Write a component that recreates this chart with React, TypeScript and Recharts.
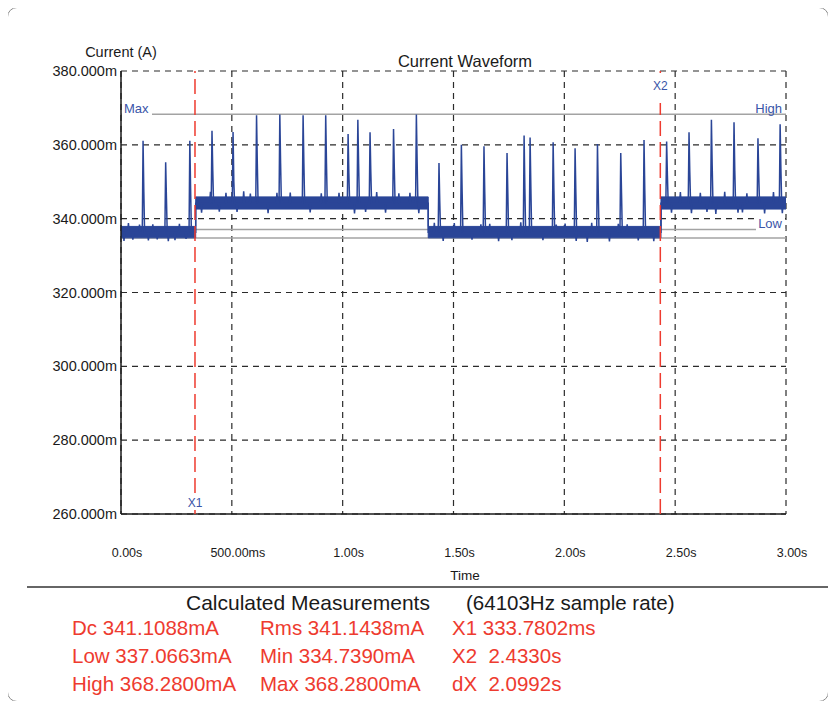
import React from "react";
import { ComposedChart, Line, Area, XAxis, YAxis, CartesianGrid, ReferenceLine } from "recharts";

// trace segments (s) and their noise band (mA)
const segStart = [0, 0.337, 1.386, 2.436];
const segEnd = [0.337, 1.386, 2.436, 3.0];
const segBase = [336.3, 344.2, 336.3, 344.2];
const bandLow = [334.8, 342.6, 334.8, 342.6];
const bandHigh = [337.9, 345.9, 337.9, 345.9];

// current spikes: time (s), peak and shoulder (mA)
const spikeTimes = [
  0.096, 0.198, 0.307, 0.407, 0.502, 0.608, 0.713, 0.818, 0.92, 1.021, 1.065, 1.12, 1.226, 1.329, 1.431, 1.532,
  1.634, 1.738, 1.815, 1.842, 1.946, 2.045, 2.146, 2.251, 2.356, 2.458, 2.559, 2.66, 2.762, 2.87, 2.97,
];
const spikePeaks = [
  361.1, 355.3, 361.1, 363.8, 363.5, 368.0, 368.2, 368.0, 368.0, 362.9, 366.8, 363.4, 364.3, 368.2, 355.1, 360.0,
  359.6, 357.8, 362.5, 362.0, 360.7, 359.1, 360.2, 357.8, 361.3, 360.9, 363.4, 366.8, 366.1, 361.8, 365.6,
];
const spikeShoulders = [
  347.2, 345.5, 348.2, 353.0, 350.0, 354.8, 355.0, 355.0, 355.0, 352.1, 354.8, 352.6, 353.5, 355.3, 344.7, 347.2,
  347.2, 347.2, 348.1, 348.5, 347.6, 347.0, 347.4, 347.0, 347.6, 351.7, 352.6, 354.4, 353.0, 352.1, 353.5,
];

// small noise outliers on the band edges
const noiseTimes = [
  0.01, 0.03, 0.05, 0.08, 0.12, 0.14, 0.16, 0.21, 0.24, 0.26, 0.29,
  0.36, 0.4, 0.44, 0.47, 0.52, 0.55, 0.58, 0.66, 0.7, 0.76, 0.85, 0.9, 0.98, 1.05, 1.1, 1.15, 1.19, 1.25, 1.3, 1.34,
  1.41, 1.45, 1.5, 1.58, 1.62, 1.66, 1.7, 1.76, 1.8, 1.9, 1.96, 2.0, 2.05, 2.1, 2.12, 2.2, 2.24, 2.28, 2.33, 2.4,
  2.48, 2.52, 2.57, 2.61, 2.64, 2.68, 2.72, 2.78, 2.8, 2.82, 2.9, 2.94, 2.98,
];
const noiseValues = [
  334.0, 338.8, 334.3, 338.4, 334.1, 338.5, 334.4, 333.9, 334.2, 338.6, 334.5,
  341.6, 347.3, 341.9, 347.0, 341.8, 347.4, 346.8, 341.5, 347.0, 347.1, 341.7, 346.9, 347.0, 341.4, 341.8, 347.2, 341.6, 346.9, 347.0, 341.5,
  338.9, 334.0, 338.8, 334.3, 338.5, 338.6, 333.9, 334.2, 339.0, 334.2, 338.4, 338.7, 334.0, 333.7, 338.9, 333.8, 338.6, 338.5, 334.1, 333.9,
  341.6, 347.2, 341.5, 347.0, 341.8, 341.3, 347.3, 341.6, 341.7, 346.9, 341.4, 347.2, 341.5,
];

const xTicks = [0, 0.5, 1, 1.5, 2, 2.5, 3];
const xTickLabels = ["0.00s", "500.00ms", "1.00s", "1.50s", "2.00s", "2.50s", "3.00s"];
const yTicks = [260, 280, 300, 320, 340, 360, 380];
const yTickLabels = ["260.000m", "280.000m", "300.000m", "320.000m", "340.000m", "360.000m", "380.000m"];

const cursorX1 = 0.3337802;
const cursorX2 = 2.433;
const levelHigh = 368.28;
const levelLow = 337.0663;
const levelMin = 334.739;

const measureCol1 = ["Dc 341.1088mA", "Low 337.0663mA", "High 368.2800mA"];
const measureCol2 = ["Rms 341.1438mA", "Min 334.7390mA", "Max 368.2800mA"];
const measureCol3 = ["X1 333.7802ms", "X2  2.4330s", "dX  2.0992s"];

const WAVE = "#2a4597";
const LABEL_BLUE = "#3a55a8";
const RED = "#ee3b2f";
const FONT = "'Liberation Sans', Arial, sans-serif";

type Pt = { t: number; v: number };
const wave: Pt[] = [];
segStart.forEach((s, i) => {
  const e = segEnd[i];
  const b = segBase[i];
  const evs: { t: number; pts: number[] }[] = [];
  spikeTimes.forEach((t, k) => {
    if (t >= s && t < e) evs.push({ t, pts: [spikePeaks[k], spikeShoulders[k]] });
  });
  noiseTimes.forEach((t, k) => {
    if (t >= s && t < e) evs.push({ t, pts: [noiseValues[k]] });
  });
  evs.sort((a, c) => a.t - c.t);
  wave.push({ t: s, v: b });
  evs.forEach((ev) => {
    wave.push({ t: ev.t, v: b });
    ev.pts.forEach((p, j) => wave.push({ t: ev.t + 0.0035 * (j + 1), v: p }));
    wave.push({ t: ev.t + 0.0035 * (ev.pts.length + 1), v: b });
  });
  wave.push({ t: e, v: b });
});

const band = segStart.flatMap((s, i) => [
  { t: s, range: [bandLow[i], bandHigh[i]] },
  { t: segEnd[i], range: [bandLow[i], bandHigh[i]] },
]);

const XTick = ({ x, y, payload, index }: any) => (
  <text x={x + 6} y={y + 43} textAnchor="middle" fontSize={12.5} fontFamily={FONT} fill="#1a1a1a">
    {xTickLabels[index] ?? xTickLabels[xTicks.indexOf(payload.value)]}
  </text>
);

const YTick = ({ x, y, payload }: any) => (
  <text x={x} y={y + 5} textAnchor="end" fontSize={14.5} fontFamily={FONT} fill="#1a1a1a">
    {yTickLabels[yTicks.indexOf(payload.value)]}
  </text>
);

const maxLabel = ({ viewBox }: any) => (
  <g>
    <rect x={viewBox.x + 1} y={viewBox.y - 12} width={30} height={14} fill="#fff" />
    <text x={viewBox.x + 3} y={viewBox.y - 1} fontSize={13} fontFamily={FONT} fill={LABEL_BLUE}>
      Max
    </text>
    <text x={viewBox.x + viewBox.width - 4} y={viewBox.y - 1} textAnchor="end" fontSize={13} fontFamily={FONT} fill={LABEL_BLUE}>
      High
    </text>
  </g>
);

const lowLabel = ({ viewBox }: any) => (
  <g>
    <rect x={viewBox.x + viewBox.width - 30} y={viewBox.y - 12} width={29} height={14} fill="#fff" />
    <text x={viewBox.x + viewBox.width - 4} y={viewBox.y - 1} textAnchor="end" fontSize={13} fontFamily={FONT} fill={LABEL_BLUE}>
      Low
    </text>
  </g>
);

const x1Label = ({ viewBox }: any) => {
  const bottom = viewBox.y + viewBox.height;
  return (
    <g>
      <rect x={viewBox.x - 9} y={bottom - 21} width={18} height={17} fill="#fff" />
      <text x={viewBox.x} y={bottom - 7} textAnchor="middle" fontSize={12} fontFamily={FONT} fill={LABEL_BLUE}>
        X1
      </text>
    </g>
  );
};

const x2Label = ({ viewBox }: any) => (
  <g>
    <rect x={viewBox.x - 9} y={viewBox.y + 4} width={18} height={28} fill="#fff" />
    <text x={viewBox.x} y={viewBox.y + 19} textAnchor="middle" fontSize={12} fontFamily={FONT} fill={LABEL_BLUE}>
      X2
    </text>
  </g>
);

export default function App() {
  return (
    <div style={{ position: "relative", width: 820, height: 693 }}>
      <div
        style={{
          position: "absolute",
          left: -1,
          top: -1,
          width: 822,
          height: 695,
          boxSizing: "border-box",
          border: "1.5px solid #8c8c8c",
          borderRadius: 10,
        }}
      />
      <div style={{ position: "absolute", left: 0, top: 0 }}>
        <ComposedChart width={820} height={580} margin={{ top: 63, right: 42, left: 0, bottom: 0 }}>
          <CartesianGrid stroke="#2b2b2b" strokeDasharray="6 5" strokeWidth={1.2} />
          <XAxis
            xAxisId={0}
            type="number"
            dataKey="t"
            domain={[0, 3]}
            ticks={xTicks}
            allowDataOverflow
            height={74}
            tickSize={0}
            tickMargin={0}
            axisLine={{ stroke: "#1a1a1a", strokeWidth: 1.5 }}
            tick={<XTick />}
            interval={0}
          />
          <XAxis xAxisId="top" orientation="top" type="number" domain={[0, 3]} height={0} tick={false} tickLine={false} axisLine={{ stroke: "#1a1a1a", strokeWidth: 1.5 }} />
          <YAxis
            yAxisId={0}
            type="number"
            domain={[260, 380]}
            ticks={yTicks}
            allowDataOverflow
            width={113}
            tickSize={0}
            tickMargin={4}
            axisLine={{ stroke: "#1a1a1a", strokeWidth: 1.5 }}
            tick={<YTick />}
            interval={0}
          />
          <YAxis yAxisId="right" orientation="right" type="number" domain={[260, 380]} width={0} tick={false} tickLine={false} axisLine={{ stroke: "#1a1a1a", strokeWidth: 1.5 }} />
          <ReferenceLine y={levelMin} stroke="#a3a3a3" strokeWidth={1.5} zIndex={20} />
          <ReferenceLine y={levelLow} stroke="#a3a3a3" strokeWidth={1.5} zIndex={20} label={lowLabel} />
          <ReferenceLine y={levelHigh} stroke="#a3a3a3" strokeWidth={1.5} zIndex={20} label={maxLabel} />
          <Area data={band} dataKey="range" type="linear" stroke={WAVE} strokeWidth={1} fill={WAVE} fillOpacity={1} zIndex={100} isAnimationActive={false} />
          <Line data={wave} dataKey="v" type="linear" stroke={WAVE} strokeWidth={1.5} dot={false} zIndex={110} isAnimationActive={false} />
          <ReferenceLine x={cursorX1} stroke={RED} strokeWidth={1.5} strokeDasharray="15 6" zIndex={1500} label={x1Label} />
          <ReferenceLine x={cursorX2} stroke={RED} strokeWidth={1.5} strokeDasharray="15 6" zIndex={1500} label={x2Label} />
        </ComposedChart>
      </div>
      <svg width={820} height={693} style={{ position: "absolute", left: 0, top: 0, pointerEvents: "none" }} fontFamily={FONT}>
        <text x={113} y={49} textAnchor="middle" fontSize={14.5} fill="#1a1a1a">
          Current (A)
        </text>
        <text x={457} y={58.5} textAnchor="middle" fontSize={16.5} fill="#1a1a1a">
          Current Waveform
        </text>
        <text x={457} y={572} textAnchor="middle" fontSize={13.5} fill="#1a1a1a">
          Time
        </text>
        <line x1={19} x2={820} y1={579} y2={579} stroke="#333" strokeWidth={1.5} />
        <text x={178} y={602} fontSize={21} fill="#1a1a1a">
          Calculated Measurements
        </text>
        <text x={458} y={602} fontSize={20.5} fill="#1a1a1a">
          (64103Hz sample rate)
        </text>
        {measureCol1.map((s, i) => (
          <text key={"a" + i} x={64} y={627 + i * 28} fontSize={20.5} fill={RED} style={{ whiteSpace: "pre" }}>
            {s}
          </text>
        ))}
        {measureCol2.map((s, i) => (
          <text key={"b" + i} x={252} y={627 + i * 28} fontSize={20.5} fill={RED} style={{ whiteSpace: "pre" }}>
            {s}
          </text>
        ))}
        {measureCol3.map((s, i) => (
          <text key={"c" + i} x={444} y={627 + i * 28} fontSize={20.5} fill={RED} style={{ whiteSpace: "pre" }}>
            {s}
          </text>
        ))}
      </svg>
    </div>
  );
}
